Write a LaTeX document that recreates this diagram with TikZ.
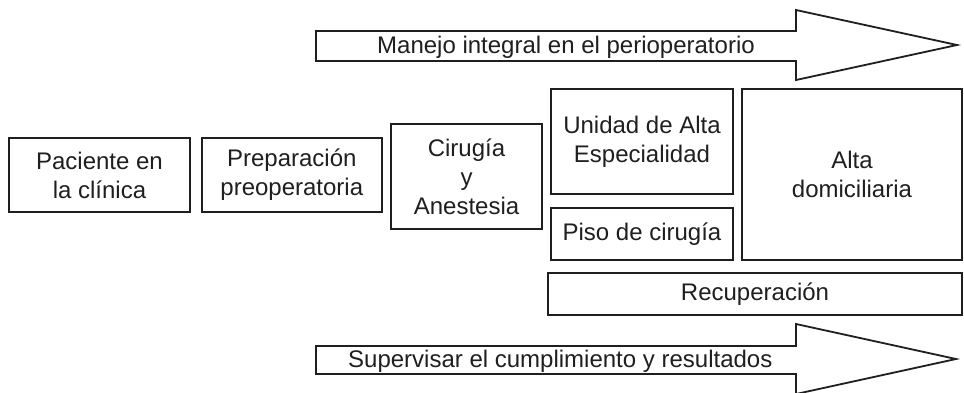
\documentclass[tikz,border=0pt]{standalone}
\usepackage{fontspec}
\setmainfont{Liberation Sans}
\usepackage{xcolor}
\colorlet{colorLine}{black!88}
\usetikzlibrary{positioning}
\tikzset{stage/.style={draw=colorLine, line width=1.8pt, align=center, inner sep=0pt, text=colorLine}}
\tikzset{banner/.style={draw=colorLine, line width=1.8pt, line join=miter, fill=white}}

\begin{document}
\begin{tikzpicture}[x=1pt, y=-1pt, every node/.style={font=\fontsize{24}{29}\selectfont}]
\useasboundingbox (0,0) rectangle (964,392);
% big arrows
\draw[banner] (316,31) -- (796,31) -- (796,10) -- (957,45) -- (796,80) -- (796,61) -- (316,61) -- cycle;
\node[anchor=west, inner sep=0pt, text=colorLine] (manejo) at (377,47) {Manejo integral en el perioperatorio};
\draw[banner] (316,346) -- (796,346) -- (796,324) -- (956,359) -- (796,394) -- (796,374) -- (316,374) -- cycle;
\node[anchor=west, inner sep=0pt, text=colorLine] (supervisar) at (348,361) {Supervisar el cumplimiento y resultados};
% stages
\node[stage, minimum width=181pt, minimum height=74pt] (paciente) at (99.5,175) {Paciente en\\la clínica};
\node[stage, minimum width=180pt, minimum height=74pt, right=10pt of paciente] (prep) {Preparación\\preoperatoria};
\node[stage, minimum width=151pt, minimum height=105pt] (cirugia) at (466.5,176.5) {Cirugía\\y\\Anestesia};
\node[stage, minimum width=182pt, minimum height=105pt] (unidad) at (642,141.5) {Unidad de Alta\\Especialidad};
\node[stage, minimum width=182pt, minimum height=52pt] (piso) at (642,234) {Piso de cirugía};
\node[stage, minimum width=220pt, minimum height=171pt] (alta) at (852,174.5) {Alta\\domiciliaria};
\node[stage, minimum width=414pt, minimum height=42pt] (recup) at (755,294) {Recuperación};
\end{tikzpicture}
\end{document}
